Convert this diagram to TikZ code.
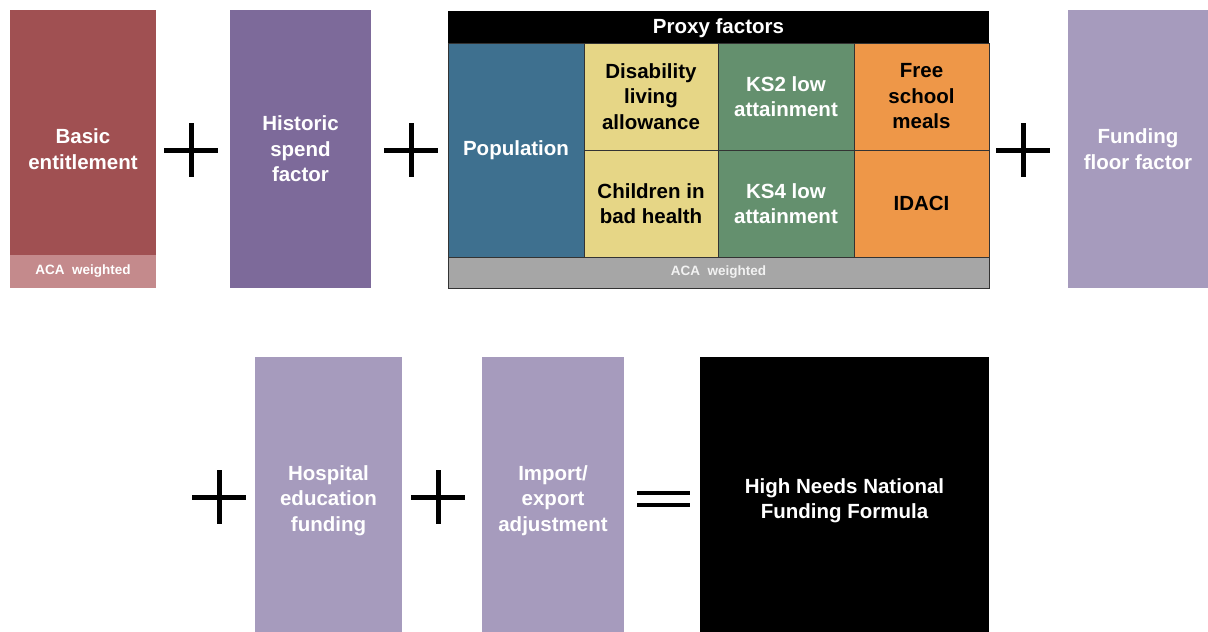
\documentclass[tikz,border=0pt]{standalone}
\usepackage{fontspec}
\setmainfont{Liberation Sans}
\usetikzlibrary{positioning}

\definecolor{basicred}{RGB}{160,80,82}
\definecolor{acapink}{RGB}{196,138,140}
\definecolor{histpurple}{RGB}{125,106,154}
\definecolor{popblue}{RGB}{62,112,143}
\definecolor{dlayellow}{RGB}{230,214,134}
\definecolor{ksgreen}{RGB}{100,144,110}
\definecolor{fsmorange}{RGB}{238,151,72}
\definecolor{acagray}{RGB}{166,166,166}
\definecolor{lightpurple}{RGB}{166,155,189}

\tikzset{
	plussign/.pic={
		\draw[line width=5] (-27,0) -- (27,0) (0,-27) -- (0,27);
	}
}

\begin{document}
\begin{tikzpicture}[
	x=1pt, y=-1pt,
	every node/.style={
		inner sep=0pt,
		outer sep=0pt,
		align=center,
		font=\fontsize{20.5}{25.5}\selectfont\bfseries
	},
	factor/.style={
		anchor=north west,
		text=white,
		minimum height=278
	},
	cell/.style={
		draw=black!80,
		line width=0.8,
		minimum height=107
	},
	acastrip/.style={
		text=white,
		font=\fontsize{13.5}{15}\selectfont\bfseries
	}
]
\useasboundingbox (0,0) rectangle (1208,632);

% first row
\node[factor, fill=basicred, minimum width=146] (basic) at (10,10) {Basic\\entitlement};
\node[acastrip, fill=acapink, minimum width=146, minimum height=33, anchor=south west]
	(basicaca) at (basic.south west) {ACA\ \ weighted};
\pic at (191,150) {plussign};
\node[factor, fill=histpurple, minimum width=141] (hist) at (230,10) {Historic\\spend\\factor};
\pic at (411,150) {plussign};

% proxy factors
\node[anchor=north west, fill=black, text=white, minimum width=541, minimum height=32,
	text depth=2] (proxy) at (448,11) {Proxy factors};
\node[cell, fill=popblue, text=white, minimum width=136, minimum height=214,
	below right=0pt and 0pt of proxy.south west] (pop) {Population};
\node[cell, fill=dlayellow, minimum width=134,
	below right=0pt and 0pt of pop.north east] (dla) {Disability\\living\\allowance};
\node[cell, fill=dlayellow, minimum width=134, below=0pt of dla] (health) {Children in\\bad health};
\node[cell, fill=ksgreen, text=white, minimum width=136,
	below right=0pt and 0pt of dla.north east] (ks2) {KS2 low\\attainment};
\node[cell, fill=ksgreen, text=white, minimum width=136, below=0pt of ks2] (ks4) {KS4 low\\attainment};
\node[cell, fill=fsmorange, minimum width=135,
	below right=0pt and 0pt of ks2.north east] (fsm) {Free\\school\\meals};
\node[cell, fill=fsmorange, minimum width=135, below=0pt of fsm] (idaci) {IDACI};
\node[cell, acastrip, fill=acagray, text=black!5, minimum width=541, minimum height=31,
	below right=0pt and 0pt of pop.south west] (proxyaca) {ACA\ \ weighted};

\pic at (1023,150) {plussign};
\node[factor, fill=lightpurple, minimum width=140] (floor) at (1068,10) {Funding\\floor factor};

% second row, cut off by the lower edge
\pic at (219,497) {plussign};
\node[factor, fill=lightpurple, minimum width=147, minimum height=287] (hosp) at (255,357) {Hospital\\education\\funding};
\pic at (438,497) {plussign};
\node[factor, fill=lightpurple, minimum width=142, minimum height=287] (imex) at (482,357) {Import/\\export\\adjustment};
\draw[line width=4.5] (637,493) -- (690,493) (637,505) -- (690,505);
\node[factor, fill=black, minimum width=289, minimum height=287] (hnnff) at (700,357) {High Needs National\\Funding Formula};
\end{tikzpicture}
\end{document}
